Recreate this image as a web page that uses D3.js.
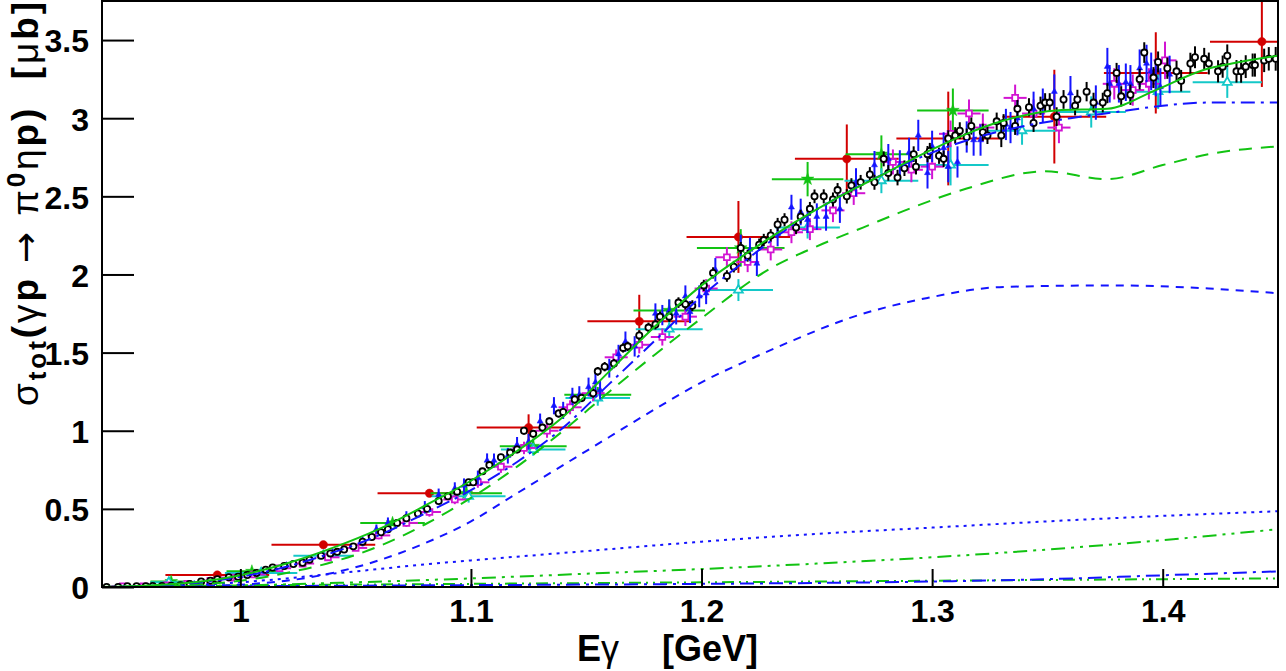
<!DOCTYPE html>
<html>
<head>
<meta charset="utf-8">
<script src="https://cdn.jsdelivr.net/npm/d3@7"></script>
<style>
body { margin: 0; background: #fff; }
text { font-family: "Liberation Sans", Arial, Helvetica, sans-serif; }
</style>
</head>
<body>
<div id="chart"></div>
<script>
// ---- data (E in GeV, sigma in microbarn) ----
var xTicks = [1.0, 1.1, 1.2, 1.3, 1.4];
var yTicks = [0, 0.5, 1, 1.5, 2, 2.5, 3, 3.5];

// black open circles
var blackE = [0.942,0.947,0.951,0.955,0.959,0.962,0.966,0.970,0.974,0.978,
    0.983,0.987,0.990,0.995,0.999,1.003,1.007,1.011,1.014,1.019,
    1.023,1.027,1.030,1.035,1.039,1.042,1.045,1.049,1.053,1.057,
    1.061,1.064,1.068,1.072,1.077,1.081,1.086,1.090,1.094,1.099,
    1.101,1.105,1.108,1.113,1.117,1.120,1.123,1.127,1.131,1.134,
    1.138,1.140,1.145,1.148,1.153,1.155,1.158,1.162,1.166,1.168,
    1.173,1.177,1.180,1.182,1.186,1.190,1.193,1.196,1.201,1.205,
    1.211,1.214,1.217,1.220,1.225,1.227,1.230,1.233,1.236,1.241,
    1.243,1.247,1.249,1.253,1.257,1.259,1.263,1.265,1.269,1.273,
    1.275,1.279,1.281,1.285,1.288,1.292,1.293,1.298,1.299,1.303,
    1.305,1.307,1.310,1.312,1.315,1.317,1.322,1.324,1.328,1.330,
    1.331,1.336,1.337,1.342,1.344,1.347,1.349,1.351,1.354,1.357,
    1.362,1.363,1.367,1.370,1.374,1.376,1.380,1.382,1.386,1.390,
    1.392,1.396,1.398,1.402,1.406,1.408,1.412,1.414,1.418,1.420,
    1.424,1.426,1.428,1.432,1.434,1.436,1.439,1.440,1.444,1.446,
    1.449];
var blackSig = [0,0,0.005,0.005,0.005,0.006,0.006,0.008,0.012,0.02,
    0.035,0.04,0.05,0.062,0.066,0.077,0.09,0.11,0.125,0.134,
    0.147,0.155,0.175,0.2,0.215,0.225,0.24,0.26,0.29,0.32,
    0.35,0.37,0.41,0.44,0.47,0.5,0.55,0.58,0.61,0.67,
    0.67,0.74,0.78,0.83,0.86,0.88,1.0,0.98,1.02,1.06,
    1.11,1.12,1.2,1.21,1.24,1.38,1.41,1.43,1.53,1.54,
    1.61,1.66,1.68,1.73,1.73,1.82,1.81,1.8,1.93,2.01,
    1.99,2.05,2.17,2.12,2.19,2.22,2.25,2.32,2.35,2.3,
    2.37,2.42,2.5,2.5,2.48,2.54,2.5,2.57,2.59,2.64,
    2.59,2.74,2.65,2.62,2.68,2.77,2.69,2.77,2.79,2.76,
    2.74,2.87,2.89,2.92,2.88,2.95,2.91,2.89,2.98,2.89,
    2.97,2.95,3.06,3.07,2.97,3.08,3.1,3.1,3.01,3.12,
    3.08,3.12,3.17,3.1,3.1,3.16,3.29,3.14,3.15,3.25,
    3.42,3.26,3.36,3.32,3.3,3.24,3.35,3.39,3.38,3.35,
    3.3,3.33,3.4,3.3,3.3,3.33,3.34,3.34,3.37,3.38,
    3.38];
var blackErr = [0.005,0.005,0.005,0.005,0.005,0.005,0.005,0.006,0.006,0.006,
    0.008,0.008,0.008,0.008,0.01,0.01,0.01,0.01,0.01,0.012,
    0.012,0.012,0.012,0.012,0.014,0.014,0.014,0.014,0.015,0.015,
    0.015,0.016,0.016,0.016,0.018,0.018,0.018,0.02,0.02,0.02,
    0.02,0.02,0.022,0.022,0.022,0.024,0.024,0.024,0.025,0.025,
    0.026,0.026,0.027,0.027,0.028,0.028,0.03,0.03,0.03,0.03,
    0.032,0.032,0.032,0.034,0.034,0.034,0.035,0.035,0.036,0.036,
    0.037,0.037,0.038,0.038,0.04,0.04,0.04,0.042,0.042,0.042,
    0.044,0.044,0.044,0.045,0.045,0.045,0.046,0.046,0.047,0.047,
    0.048,0.048,0.05,0.05,0.05,0.05,0.05,0.052,0.052,0.052,
    0.053,0.053,0.053,0.054,0.054,0.055,0.055,0.055,0.056,0.075,
    0.056,0.057,0.057,0.058,0.058,0.058,0.06,0.06,0.06,0.06,
    0.062,0.062,0.062,0.063,0.063,0.064,0.064,0.065,0.065,0.066,
    0.066,0.067,0.067,0.068,0.068,0.069,0.069,0.07,0.07,0.07,
    0.071,0.071,0.072,0.072,0.073,0.073,0.074,0.074,0.075,0.075,
    0.076];

// blue full triangles
var blueE = [0.950,0.960,0.970,0.980,0.990,1.000,1.010,1.020,1.030,1.040,
    1.053,1.059,1.064,1.072,1.080,1.086,1.093,1.097,1.103,1.107,
    1.110,1.116,1.120,1.125,1.130,1.136,1.140,1.144,1.147,1.151,
    1.154,1.156,1.160,1.164,1.167,1.171,1.180,1.183,1.186,1.189,
    1.193,1.195,1.199,1.202,1.206,1.217,1.221,1.224,1.233,1.239,
    1.243,1.246,1.250,1.254,1.260,1.267,1.275,1.281,1.286,1.290,
    1.294,1.298,1.300,1.305,1.307,1.311,1.315,1.318,1.321,1.332,
    1.334,1.337,1.344,1.348,1.353,1.360,1.371,1.376,1.377,1.381,
    1.384,1.386,1.390,1.393,1.395,1.397,1.399,1.403];
var blueSig = [0,0.004,0.01,0.02,0.04,0.07,0.1,0.14,0.18,0.22,
    0.29,0.37,0.41,0.45,0.51,0.59,0.63,0.65,0.7,0.81,
    0.81,0.84,0.91,0.93,1.06,1.16,1.13,1.22,1.23,1.28,
    1.31,1.26,1.4,1.49,1.57,1.54,1.75,1.74,1.77,1.75,
    1.86,1.76,1.86,1.88,2.03,2.18,2.16,2.07,2.26,2.43,
    2.4,2.35,2.37,2.37,2.42,2.59,2.7,2.74,2.7,2.78,
    2.89,2.65,2.82,2.81,2.69,2.72,2.88,2.86,2.86,2.96,
    2.94,3.0,3.06,3.08,3.17,3.16,3.1,3.33,3.22,3.22,
    3.23,3.22,3.32,3.35,3.3,3.26,3.2,3.28];
var blueErr = [0.005,0.005,0.006,0.008,0.01,0.012,0.015,0.02,0.02,0.025,
    0.03,0.03,0.035,0.035,0.04,0.04,0.04,0.045,0.045,0.045,
    0.045,0.05,0.05,0.05,0.05,0.055,0.055,0.055,0.055,0.06,
    0.06,0.06,0.06,0.06,0.065,0.065,0.065,0.065,0.07,0.07,
    0.07,0.07,0.07,0.07,0.075,0.075,0.075,0.08,0.08,0.08,
    0.085,0.085,0.085,0.09,0.09,0.09,0.09,0.095,0.095,0.095,
    0.1,0.1,0.1,0.1,0.1,0.1,0.1,0.1,0.1,0.1,
    0.1,0.11,0.11,0.11,0.11,0.11,0.11,0.12,0.12,0.12,
    0.12,0.12,0.12,0.12,0.12,0.12,0.12,0.12];

// magenta open squares
var magE = [0.949,0.958,0.968,0.977,0.987,0.996,1.006,1.017,1.027,1.038,
    1.050,1.060,1.072,1.082,1.093,1.103,1.113,1.123,1.133,1.143,
    1.153,1.163,1.173,1.183,1.193,1.202,1.211,1.220,1.230,1.239,
    1.247,1.257,1.266,1.283,1.291,1.300,1.308,1.316,1.322,1.336,
    1.344,1.355,1.379,1.387,1.394,1.401];
var magSig = [0.005,0.005,0.01,0.02,0.04,0.06,0.08,0.12,0.15,0.19,
    0.25,0.33,0.41,0.48,0.56,0.67,0.77,0.89,1.0,1.15,
    1.24,1.47,1.55,1.6,1.73,1.91,2.11,2.08,2.16,2.27,
    2.29,2.41,2.52,2.72,2.67,2.69,2.9,3.03,2.94,3.13,
    3.03,2.94,3.22,3.18,3.22,3.37];
var magErr = [0.005,0.005,0.006,0.008,0.01,0.01,0.012,0.015,0.015,0.02,
    0.02,0.025,0.025,0.03,0.03,0.035,0.04,0.04,0.045,0.045,
    0.05,0.05,0.055,0.055,0.06,0.06,0.065,0.065,0.07,0.07,
    0.07,0.075,0.075,0.08,0.08,0.08,0.085,0.09,0.09,0.085,
    0.09,0.1,0.1,0.1,0.1,0.12];
var magDE = 0.005;

// red full circles
var redE = [0.990,1.036,1.082,1.125,1.173,1.216,1.263,1.307,1.353,1.397,1.443];
var redSig = [0.077,0.27,0.60,1.02,1.70,2.24,2.74,2.87,3.01,3.29,3.49];
var redErr = [0.01,0.012,0.015,0.085,0.17,0.23,0.22,0.3,0.3,0.26,0.29];
var redDE = 0.0225;

// green stars
var starE = [0.970,1.005,1.066,1.098,1.127,1.155,1.186,1.217,1.246,1.278,1.309];
var starSig = [0.035,0.1,0.41,0.6,0.9,1.23,1.77,2.17,2.61,2.77,3.05];
var starErr = [0.005,0.01,0.02,0.05,0.05,0.05,0.07,0.12,0.11,0.12,0.14];
var starDE = [0.009,0.011,0.014,0.0155,0.0145,0.0145,0.0155,0.019,0.0155,0.0155,0.0155];

// cyan open triangles
var cyanE = [0.969,1.009,1.036,1.099,1.127,1.155,1.186,1.216,1.246,1.278,1.308,1.339,1.369,1.398,1.428];
var cyanSig = [0.03,0.09,0.2,0.58,0.88,1.21,1.65,1.9,2.3,2.6,2.7,2.92,3.04,3.17,3.23];
var cyanErr = [0.005,0.01,0.015,0.04,0.04,0.05,0.06,0.07,0.07,0.08,0.13,0.09,0.1,0.11,0.1];
var cyanDE = [0.008,0.0157,0.013,0.016,0.014,0.014,0.0145,0.015,0.014,0.016,0.0165,0.015,0.015,0.014,0.015];

// model curves
var totalE = [0.94,0.96,0.98,1.0,1.02,1.04,1.06,1.08,1.1,1.12,1.14,1.16,1.18,1.2,1.22,1.24,1.26,1.28,1.3,1.315,1.33,1.354,1.376,1.397,1.418,1.43,1.45];
var totalSig = [0,0.01,0.03,0.075,0.15,0.25,0.37,0.52,0.68,0.87,1.09,1.38,1.67,1.93,2.14,2.33,2.5,2.65,2.8,2.9,2.98,3.05,3.06,3.18,3.31,3.35,3.4];
var dashDotE = [0.94,0.96,0.98,1.0,1.02,1.04,1.06,1.08,1.1,1.12,1.14,1.16,1.18,1.2,1.22,1.24,1.26,1.28,1.3,1.32,1.34,1.36,1.38,1.4,1.42,1.45];
var dashDotSig = [0,0.008,0.025,0.065,0.13,0.22,0.33,0.47,0.62,0.8,1.02,1.3,1.58,1.86,2.1,2.32,2.5,2.65,2.78,2.88,2.95,3.0,3.04,3.08,3.1,3.1];
var greenDashE = [0.94,0.96,0.98,1.0,1.02,1.04,1.06,1.08,1.1,1.12,1.14,1.16,1.18,1.2,1.23,1.25,1.27,1.29,1.315,1.349,1.376,1.4,1.42,1.45];
var greenDashSig = [0,0.003,0.015,0.04,0.09,0.16,0.26,0.4,0.57,0.77,1.0,1.25,1.49,1.72,2.04,2.18,2.3,2.42,2.55,2.66,2.61,2.7,2.77,2.82];
var blueDashE = [0.94,0.98,1.0,1.02,1.04,1.06,1.08,1.1,1.12,1.14,1.16,1.18,1.2,1.22,1.24,1.264,1.298,1.331,1.38,1.42,1.45];
var blueDashSig = [0,0.005,0.015,0.04,0.09,0.17,0.28,0.42,0.6,0.78,0.96,1.14,1.31,1.45,1.58,1.72,1.85,1.92,1.93,1.91,1.88];
var blueDotE = [0.94,0.96,0.98,1.0,1.02,1.04,1.06,1.08,1.1,1.15,1.2,1.25,1.3,1.35,1.4,1.45];
var blueDotSig = [0,0.003,0.012,0.03,0.055,0.085,0.115,0.145,0.17,0.23,0.29,0.34,0.38,0.42,0.455,0.485];
var greenDddE = [0.94,1.0,1.05,1.1,1.15,1.2,1.25,1.3,1.35,1.4,1.45];
var greenDddSig = [0,0.01,0.03,0.055,0.085,0.115,0.15,0.19,0.24,0.3,0.37];
var blueLowE = [0.94,1.0,1.1,1.2,1.3,1.35,1.4,1.45];
var blueLowSig = [0,0.005,0.012,0.02,0.035,0.05,0.075,0.1];
var greenLowE = [0.94,1.0,1.1,1.2,1.3,1.4,1.45];
var greenLowSig = [0,0.01,0.02,0.03,0.04,0.05,0.055];

// ---- layout ----
var width = 1286, height = 671;
var frameL = 102, frameR = 1278, frameT = 1, frameB = 587;
var cBlack = "#000", cBlue = "#1414ff", cGreen = "#12c312", cRed = "#d20000",
    cMag = "#d214d2", cCyan = "#14c8c8";
var fontSize = 32;

var x = d3.scaleLinear().domain([0.94, 1.45]).range([frameL, frameR]);
var y = d3.scaleLinear().domain([0, 3.75]).range([frameB, frameT]);

var svg = d3.select("#chart").append("svg")
    .attr("width", width)
    .attr("height", height);

svg.append("defs").append("clipPath").attr("id", "frame")
    .append("rect")
    .attr("x", frameL).attr("y", frameT)
    .attr("width", frameR - frameL).attr("height", frameB - frameT);

var plot = svg.append("g").attr("clip-path", "url(#frame)");

// error bars + markers for one data set
function drawSet(E, S, err, dE, colour, marker) {
    var g = plot.append("g");
    var idx = d3.range(E.length);
    g.selectAll("line.v")
        .data(idx).enter()
        .append("line")
        .attr("x1", (i) => x(E[i]))
        .attr("x2", (i) => x(E[i]))
        .attr("y1", (i) => y(S[i] - err[i]))
        .attr("y2", (i) => y(S[i] + err[i]))
        .style("stroke", colour)
        .style("stroke-width", 2);
    if (dE != null) {
        g.selectAll("line.h")
            .data(idx).enter()
            .append("line")
            .attr("x1", (i) => x(E[i] - (Array.isArray(dE) ? dE[i] : dE)))
            .attr("x2", (i) => x(E[i] + (Array.isArray(dE) ? dE[i] : dE)))
            .attr("y1", (i) => y(S[i]))
            .attr("y2", (i) => y(S[i]))
            .style("stroke", colour)
            .style("stroke-width", 2);
    }
    g.selectAll("path.m")
        .data(idx).enter()
        .append("path")
        .attr("transform", (i) => "translate(" + x(E[i]) + "," + y(S[i]) + ")")
        .attr("d", d3.symbol().type(marker.type).size(marker.size))
        .style("fill", marker.open ? "#fff" : colour)
        .style("stroke", colour)
        .style("stroke-width", marker.open ? 1.8 : 0.5);
}

drawSet(redE, redSig, redErr, redDE, cRed, {type: d3.symbolCircle, size: 55});
drawSet(starE, starSig, starErr, starDE, cGreen, {type: d3.symbolStar, size: 50});
drawSet(cyanE, cyanSig, cyanErr, cyanDE, cCyan, {type: d3.symbolTriangle, size: 34, open: true});
drawSet(magE, magSig, magErr, magDE, cMag, {type: d3.symbolSquare, size: 34, open: true});
drawSet(blueE, blueSig, blueErr, null, cBlue, {type: d3.symbolTriangle, size: 16});
drawSet(blackE, blackSig, blackErr, null, cBlack, {type: d3.symbolCircle, size: 30, open: true});

// model curves
function drawCurve(E, S, colour, dash) {
    var line = d3.line()
        .x((d) => x(d[0]))
        .y((d) => y(d[1]))
        .curve(d3.curveMonotoneX);
    plot.append("path")
        .datum(d3.zip(E, S))
        .attr("d", line)
        .style("fill", "none")
        .style("stroke", colour)
        .style("stroke-width", 2)
        .style("stroke-dasharray", dash);
}

drawCurve(greenLowE, greenLowSig, cGreen, "12,5,2,5,2,5");
drawCurve(blueLowE, blueLowSig, cBlue, "14,6,3,6");
drawCurve(greenDddE, greenDddSig, cGreen, "14,6,3,6,3,6");
drawCurve(blueDotE, blueDotSig, cBlue, "3,5");
drawCurve(blueDashE, blueDashSig, cBlue, "8,7");
drawCurve(greenDashE, greenDashSig, cGreen, "13,9");
drawCurve(dashDotE, dashDotSig, cBlue, "14,6,3,6");
drawCurve(totalE, totalSig, cGreen, null);

// frame
svg.append("rect")
    .attr("x", frameL).attr("y", frameT)
    .attr("width", frameR - frameL).attr("height", frameB - frameT)
    .style("fill", "none")
    .style("stroke", "#000")
    .style("stroke-width", 2);

// axes
var xAxis = svg.append("g")
    .attr("transform", "translate(0," + frameB + ")")
    .call(d3.axisBottom(x).tickValues(xTicks).tickSize(-18).tickPadding(12)
        .tickFormat((d) => String(d)));
var yAxis = svg.append("g")
    .attr("transform", "translate(" + frameL + ",0)")
    .call(d3.axisLeft(y).tickValues(yTicks).tickSize(-32).tickPadding(13)
        .tickFormat((d) => String(d)));
[xAxis, yAxis].forEach((a) => {
    a.select(".domain").remove();
    a.selectAll(".tick line").style("stroke", "#000").style("stroke-width", 2);
    a.selectAll(".tick text")
        .style("font-family", "'Liberation Sans', Arial, sans-serif")
        .style("font-size", fontSize + "px")
        .style("font-weight", "bold")
        .style("fill", "#000");
});
yAxis.selectAll(".tick text").attr("dy", "0.37em");

// x title
var xt = svg.append("text")
    .attr("x", 577)
    .attr("y", 661)
    .style("font-size", "36px")
    .style("font-weight", "bold");
xt.append("tspan").text("E");
xt.append("tspan").style("font-weight", "normal").text("γ");
svg.append("text")
    .attr("x", 662)
    .attr("y", 661)
    .style("font-size", "36px")
    .style("font-weight", "bold")
    .text("[GeV]");

// y title
var yt = svg.append("text")
    .attr("transform", "translate(38,2) rotate(-90)")
    .attr("text-anchor", "end")
    .attr("textLength", 404)
    .attr("lengthAdjust", "spacing")
    .style("font-size", "37px")
    .style("font-weight", "bold")
    .style("white-space", "pre");
yt.append("tspan").style("font-weight", "normal").text("σ");
yt.append("tspan").attr("dy", 8).style("font-size", "26px").text("tot");
yt.append("tspan").attr("dy", -8).text("(");
yt.append("tspan").style("font-weight", "normal").text("γ");
yt.append("tspan").text("p ");
yt.append("tspan").style("font-weight", "normal").style("font-family", "'DejaVu Sans'").text("→");
yt.append("tspan").text(" ");
yt.append("tspan").style("font-weight", "normal").text("π");
yt.append("tspan").attr("dy", -13).style("font-size", "26px").text("0");
yt.append("tspan").attr("dy", 13).style("font-weight", "normal").text("η");
yt.append("tspan").text("p)  [");
yt.append("tspan").style("font-weight", "normal").text("μ");
yt.append("tspan").text("b]");
</script>
</body>
</html>
